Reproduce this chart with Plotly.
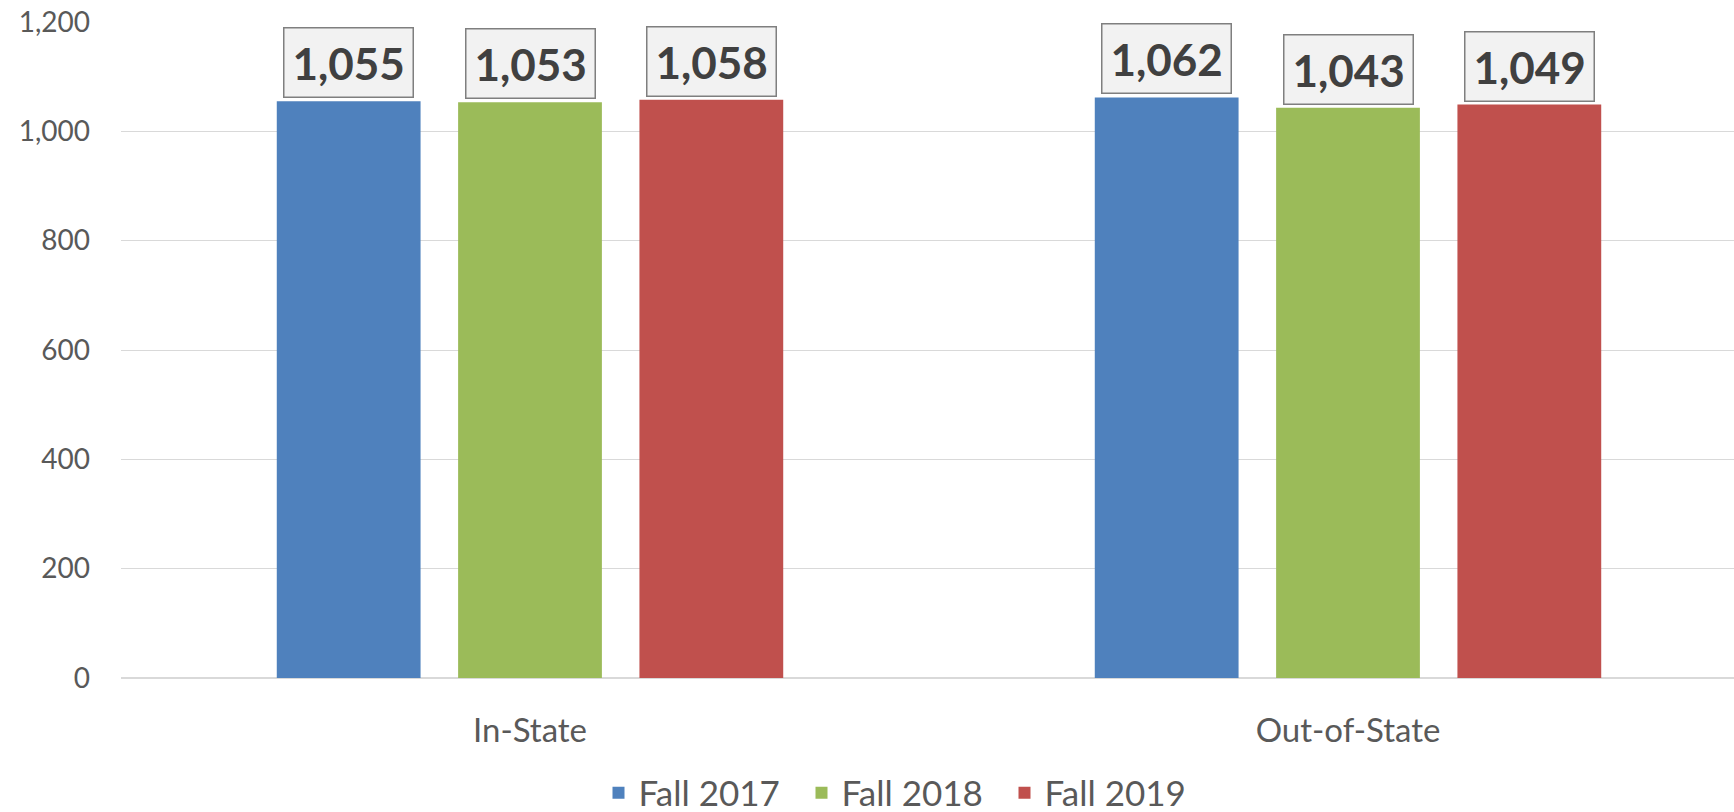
import plotly.graph_objects as go

categories = ["In-State", "Out-of-State"]
series_names = ["Fall 2017", "Fall 2018", "Fall 2019"]
values = {
    "Fall 2017": [1055, 1062],
    "Fall 2018": [1053, 1043],
    "Fall 2019": [1058, 1049],
}
colors = {"Fall 2017": "#4F81BD", "Fall 2018": "#9BBB59", "Fall 2019": "#C0504D"}
y_ticks = [0, 200, 400, 600, 800, 1000, 1200]

W, H = 1734, 812
ML, MR, MT, MB = 121, 0, 22, 134
cat_px = 818.0
plot_w = W - ML - MR
x_range = [-0.5, -0.5 + plot_w / cat_px]
bargap = 0.335
bargroupgap = 0.207

FONT = "Lato"
fig = go.Figure()
for s in series_names:
    fig.add_trace(go.Bar(name=s, x=categories, y=values[s],
                         marker=dict(color=colors[s], line=dict(width=0))))

slot = (1 - bargap) / len(series_names)
for i, s in enumerate(series_names):
    off = (i - (len(series_names) - 1) / 2) * slot
    for j, c in enumerate(categories):
        v = values[s][j]
        fig.add_annotation(x=j + off, y=v, xref="x", yref="y",
                           text=f"{v:,}", showarrow=False,
                           yanchor="bottom", yshift=3,
                           font=dict(family=FONT, size=44, color="#404040", weight="bold"),
                           bgcolor="#F2F2F2", bordercolor="#7F7F7F",
                           borderwidth=1.5, borderpad=8)

fig.update_layout(
    width=W, height=H,
    margin=dict(l=ML, r=MR, t=MT, b=MB, autoexpand=False),
    paper_bgcolor="white", plot_bgcolor="white",
    barmode="group", bargap=bargap, bargroupgap=bargroupgap,
    font=dict(family=FONT, size=28, color="#595959"),
    showlegend=True,
    legend=dict(orientation="h", x=(903 - ML) / plot_w, xanchor="center",
                y=(678 - 793) / (678 - 22), yanchor="middle",
                font=dict(family=FONT, size=35, color="#595959"),
                entrywidth=158, entrywidthmode="pixels", traceorder="normal",
                tracegroupgap=0, itemsizing="constant"),
    xaxis=dict(range=x_range, showgrid=False, showline=False, zeroline=False,
               ticks="", ticklabelstandoff=30, automargin=False,
               tickfont=dict(size=33, color="#595959")),
    yaxis=dict(range=[0, 1200], tickvals=y_ticks, tickformat=",",
               showgrid=True, gridcolor="#D9D9D9", gridwidth=1.3,
               zeroline=True, zerolinecolor="#D9D9D9", zerolinewidth=1.5,
               showline=False, ticks="", ticklabelstandoff=30, automargin=False,
               tickfont=dict(size=28, color="#595959")),
)

fig.write_html("out.html", config={"displayModeBar": False},
               post_script="document.body.style.margin='0';document.body.style.overflow='hidden';")
